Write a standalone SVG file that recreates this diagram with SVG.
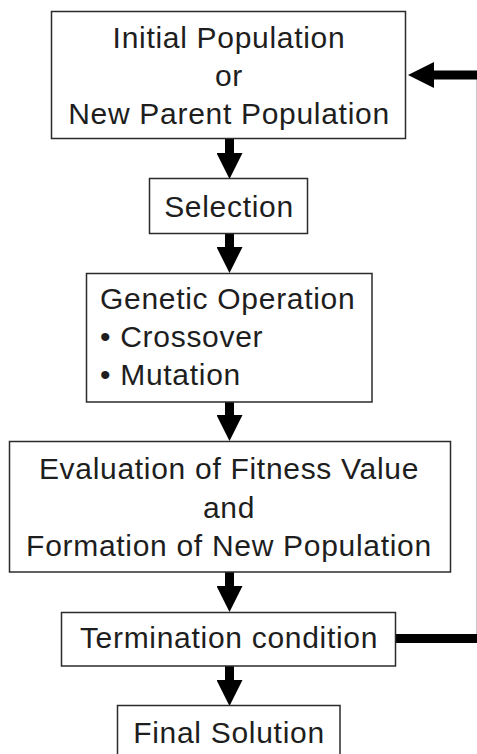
<svg xmlns="http://www.w3.org/2000/svg" width="477" height="754" viewBox="0 0 477 754">
  <style>
    .box { fill: #ffffff; stroke: #2b2b2b; stroke-width: 1.5; }
    .lbl { font-family: "Liberation Sans", Arial, sans-serif; font-size: 30px; fill: #1e1e1e; letter-spacing: 0.7px; }
    .mid { text-anchor: middle; }
    .flow { fill: none; stroke: #000000; stroke-width: 9; }
  </style>
  <defs>
    <marker id="head" viewBox="0 0 26 26" refX="1" refY="13" markerWidth="26" markerHeight="26" markerUnits="userSpaceOnUse" orient="auto">
      <path d="M0,0 L26,13 L0,26 z" fill="#000000"/>
    </marker>
  </defs>
  <rect width="477" height="754" fill="#ffffff"/>

  <g id="connectors">
    <line class="flow" x1="229.5" y1="138.5" x2="229.5" y2="154" marker-end="url(#head)"/>
    <line class="flow" x1="229.5" y1="233.5" x2="229.5" y2="248" marker-end="url(#head)"/>
    <line class="flow" x1="229.5" y1="402" x2="229.5" y2="416" marker-end="url(#head)"/>
    <line class="flow" x1="229.5" y1="572" x2="229.5" y2="587" marker-end="url(#head)"/>
    <line class="flow" x1="229.5" y1="666" x2="229.5" y2="681" marker-end="url(#head)"/>
    <!-- loop back: the return run sits just past the right edge -->
    <path class="flow" d="M396,638.5 H481.3 V75 H433" marker-end="url(#head)"/>
  </g>

  <g id="population">
    <rect class="box" x="51.5" y="11.5" width="354" height="127"/>
    <text class="lbl mid" x="229" y="48">Initial Population</text>
    <text class="lbl mid" x="229" y="86">or</text>
    <text class="lbl mid" x="229" y="124">New Parent Population</text>
  </g>

  <g id="selection">
    <rect class="box" x="149.5" y="178.5" width="158" height="55"/>
    <text class="lbl mid" x="229" y="217">Selection</text>
  </g>

  <g id="genetic-operation">
    <rect class="box" x="86.5" y="273.5" width="285.5" height="128.5"/>
    <text class="lbl" x="100" y="309">Genetic Operation</text>
    <text class="lbl" x="100" y="347">• Crossover</text>
    <text class="lbl" x="100" y="385">• Mutation</text>
  </g>

  <g id="evaluation">
    <rect class="box" x="9.5" y="441.5" width="441" height="130.5"/>
    <text class="lbl mid" x="229" y="479">Evaluation of Fitness Value</text>
    <text class="lbl mid" x="229" y="518">and</text>
    <text class="lbl mid" x="229" y="556">Formation of New Population</text>
  </g>

  <g id="termination">
    <rect class="box" x="61.5" y="612.5" width="334" height="53.5"/>
    <text class="lbl mid" x="229" y="648">Termination condition</text>
  </g>

  <g id="final-solution">
    <rect class="box" x="117.5" y="705.5" width="222.5" height="60"/>
    <text class="lbl mid" x="229" y="743">Final Solution</text>
  </g>
</svg>
